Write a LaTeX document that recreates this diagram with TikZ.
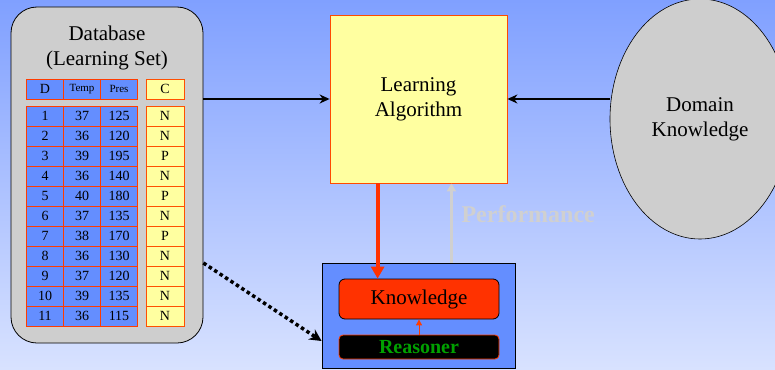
\documentclass[tikz,border=0pt]{standalone}
\usepackage{fontspec}
\setmainfont{Liberation Serif}
\usetikzlibrary{shapes.geometric,arrows.meta,positioning,calc}

\definecolor{bgtop}{RGB}{128,160,255}
\definecolor{bgbot}{RGB}{216,226,255}
\definecolor{cellblue}{RGB}{100,142,255}
\definecolor{cellred}{RGB}{255,60,0}
\definecolor{paleyellow}{RGB}{255,255,160}
\definecolor{dbgray}{RGB}{206,206,206}
\definecolor{perfgray}{RGB}{208,208,208}
\definecolor{knowred}{RGB}{255,50,0}
\definecolor{reasongreen}{RGB}{0,160,0}

\tikzset{
  bigtext/.style={font=\fontsize{21}{25}\selectfont},
  cell/.style={draw=cellred, fill=cellblue, line width=1pt, inner sep=0pt,
    minimum width=37pt, minimum height=20pt, font=\fontsize{14}{16}\selectfont},
  classcell/.style={cell, fill=paleyellow, draw=cellred!70!orange, minimum width=38pt},
  flowarrow/.style={line width=2.5pt, -{Stealth[length=10pt,width=9pt]}},
}

\begin{document}
\begin{tikzpicture}[x=1pt, y=-1pt]

% Background
\useasboundingbox (0,0) rectangle (775,369);
\clip (0,0) rectangle (775,369);
\shade[top color=bgtop, bottom color=bgbot] (0,0) rectangle (775,369);

% Database with learning set
\node[draw=black, fill=dbgray, rounded corners=26pt, line width=0.8pt,
  minimum width=192pt, minimum height=336pt] (db) at (107,175) {};
\node[bigtext, align=center] (dbtitle) at (107,48) {Database\\(Learning Set)};

% Table header
\node[cell] (hd) at (45,89) {D};
\node[cell, font=\fontsize{11}{13}\selectfont] (ht) at (82,89) {Temp};
\node[cell, font=\fontsize{11}{13}\selectfont] (hp) at (119,89) {Pres};
\node[classcell] (hc) at (165,89) {C};

% Table rows
\foreach \d/\t/\p/\c [count=\i] in {1/37/125/N, 2/36/120/N, 3/39/195/P,
    4/36/140/N, 5/40/180/P, 6/37/135/N, 7/38/170/P, 8/36/130/N,
    9/37/120/N, 10/39/135/N, 11/36/115/N} {
  \pgfmathsetmacro{\y}{96 + \i*20}
  \node[cell] (d\i) at (45,\y) {\d};
  \node[cell] (t\i) at (82,\y) {\t};
  \node[cell] (p\i) at (119,\y) {\p};
  \node[classcell] (c\i) at (165,\y) {\c};
}

% Learning algorithm
\node[draw=cellred!80!orange, fill=paleyellow, line width=0.8pt, bigtext, align=center,
  minimum width=177pt, minimum height=168pt] (la) at (418.5,99) {Learning\\Algorithm};

% Domain knowledge
\node[ellipse, draw=black, fill=dbgray, line width=0.6pt, bigtext, align=center,
  minimum width=180pt, minimum height=240pt] (dk) at (700,119) {Domain\\Knowledge};

% Performance system
\node[draw=black, fill=cellblue, line width=0.8pt,
  minimum width=193pt, minimum height=105pt] (ps) at (418.5,315.5) {};
\node[draw=black, fill=knowred, rounded corners=6pt, line width=0.8pt, bigtext,
  minimum width=160pt, minimum height=40pt] (kn) at (419,299) {Knowledge};
\node[draw=cellred, fill=black, rounded corners=4pt, line width=0.8pt,
  font=\fontsize{20}{22}\selectfont\bfseries, text=reasongreen,
  minimum width=160pt, minimum height=24pt, inner sep=0pt] (rs) at (419,347) {Reasoner};

% Connectors
\draw[flowarrow] (db.east |- la.west) -- (la.west);
\draw[flowarrow] (dk.west |- la.east) -- (la.east);
\coordinate (down) at ($(la.south west)!0.27!(la.south east)$);
\coordinate (up) at ($(ps.north west)!0.67!(ps.north east)$);
\draw[knowred, line width=4pt, -{Triangle[length=12pt,width=13pt]}] (down) -- (down |- kn.north);
\draw[perfgray, line width=3pt, -{Triangle[length=8pt,width=9pt]}] (up) -- (up |- la.south);
\node[anchor=west, text=perfgray, font=\fontsize{24}{26}\selectfont\bfseries] (perf) at (458,214) {Performance};
\draw[cellred, line width=1pt, -{Triangle[length=6pt,width=6pt]}] (rs.north) -- (kn.south);
\coordinate (dbout) at (db.east |- 0,263);
\draw[line width=3.5pt, dash pattern=on 3.5pt off 3pt, -{Stealth[length=12pt,width=12pt]}]
  (dbout) -- (ps.west |- 0,341);

\end{tikzpicture}
\end{document}
